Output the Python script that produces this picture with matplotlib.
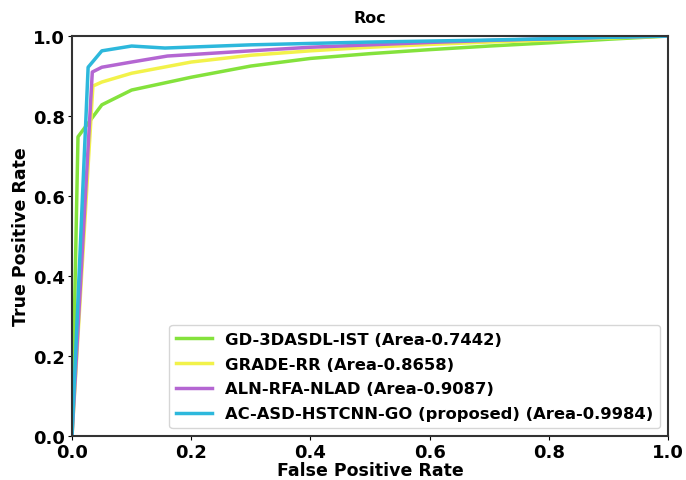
import matplotlib.pyplot as plt

# ROC curve points
fpr_gd = [0, 0.01, 0.05, 0.1, 0.2, 0.3, 0.4, 0.5, 0.6, 0.7, 0.8, 0.9, 1.0]
tpr_gd = [0, 0.748, 0.828, 0.865, 0.897, 0.925, 0.944, 0.956, 0.966, 0.975, 0.983, 0.992, 1.0]

fpr_grade = [0, 0.035, 0.05, 0.1, 0.2, 0.3, 0.4, 0.5, 0.6, 0.7, 0.8, 0.9, 1.0]
tpr_grade = [0, 0.875, 0.885, 0.907, 0.935, 0.952, 0.963, 0.972, 0.979, 0.985, 0.99, 0.995, 1.0]

fpr_aln = [0, 0.034, 0.05, 0.1, 0.16, 0.3, 0.4, 0.5, 0.6, 0.7, 0.8, 0.9, 1.0]
tpr_aln = [0, 0.91, 0.922, 0.935, 0.95, 0.963, 0.972, 0.978, 0.984, 0.989, 0.993, 0.997, 1.0]

fpr_ac = [0, 0.027, 0.05, 0.1, 0.156, 0.3, 0.5, 0.7, 1.0]
tpr_ac = [0, 0.922, 0.963, 0.975, 0.97, 0.978, 0.985, 0.99, 1.0]

labels = ['GD-3DASDL-IST (Area-0.7442)',
          'GRADE-RR (Area-0.8658)',
          'ALN-RFA-NLAD (Area-0.9087)',
          'AC-ASD-HSTCNN-GO (proposed) (Area-0.9984)']
colors = ['#84e23c', '#f2f24a', '#b466d2', '#2db8dc']

fig = plt.figure(figsize=(6.86, 4.81), dpi=100)
ax = fig.add_axes([0.105, 0.0915, 0.869, 0.8315])

curves = [(fpr_gd, tpr_gd), (fpr_grade, tpr_grade), (fpr_aln, tpr_aln), (fpr_ac, tpr_ac)]
for (x, y), lab, c in zip(curves, labels, colors):
    ax.plot(x, y, color=c, linewidth=2.5, label=lab)

ax.set_xlim(0, 1)
ax.set_ylim(0, 1.0)
ax.set_title('Roc', fontsize=11.5, fontweight='bold', pad=10)
ax.set_xlabel('False Positive Rate', fontsize=12.5, fontweight='bold', labelpad=0)
ax.set_ylabel('True Positive Rate', fontsize=12.5, fontweight='bold', labelpad=2)
ax.tick_params(axis='both', length=3, pad=2)
for t in ax.get_xticklabels() + ax.get_yticklabels():
    t.set_fontsize(13)
    t.set_fontweight('bold')
for s in ax.spines.values():
    s.set_color('#333333')
    s.set_linewidth(1.5)

ax.legend(loc='lower right', prop={'size': 11.8, 'weight': 'bold'},
          labelspacing=0.6, handlelength=2.2, borderaxespad=0.5,
          bbox_to_anchor=(1.0, 0.0))

fig.savefig('out.png', dpi=100)
